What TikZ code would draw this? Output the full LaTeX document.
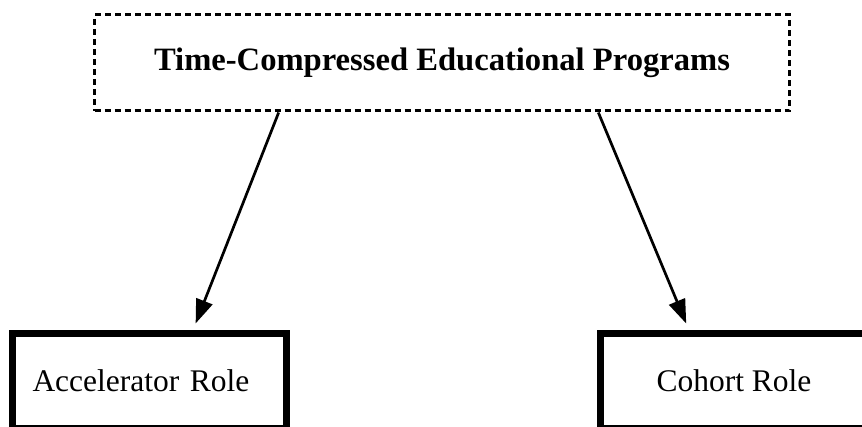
\documentclass[tikz,border=0pt]{standalone}
\usepackage{fontspec}
\setmainfont{Liberation Serif}
\usepackage{tikz}
\usetikzlibrary{arrows.meta,calc}

\begin{document}
\begin{tikzpicture}[x=1pt, y=-1pt,
    head/.style = {draw, dashed, dash pattern=on 6pt off 4pt, line width=3pt, minimum width=695pt, minimum height=96pt, font=\fontsize{32.6}{38}\selectfont\bfseries},
    role/.style = {draw, line width=7pt, minimum height=95pt, font=\fontsize{31.5}{38}\selectfont},
    link/.style = {-{Triangle[length=24pt,width=17pt]}, line width=2.7pt, shorten >=7pt}]
    \useasboundingbox (0,0) rectangle (862,427);
    \node[head] (programs) at (442,63) {Time-Compressed Educational Programs};
    \node[role, text width=234pt, inner xsep=20pt, align=left] (accel) at (149.5,381) {Accelerator Role};
    \node[role, minimum width=268pt] (cohort) at (734,381) {Cohort Role};
    \draw[link] ($(programs.south west)!0.266!(programs.south east)$) to ($(accel.north west)!0.655!(accel.north east)$);
    \draw[link] ($(programs.south west)!0.724!(programs.south east)$) to ($(cohort.north west)!0.336!(cohort.north east)$);
\end{tikzpicture}
\end{document}
